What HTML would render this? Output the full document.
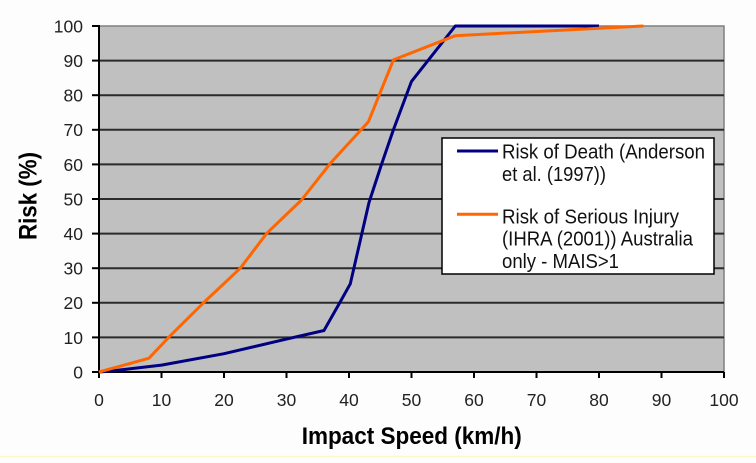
<!DOCTYPE html>
<html>
<head>
<meta charset="utf-8">
<style>
html,body{margin:0;padding:0;background:#fdfdfd;}
svg{display:block;}
text{font-family:"Liberation Sans",Arial,sans-serif;}
</style>
</head>
<body>
<svg width="756" height="463" viewBox="0 0 756 463" xmlns="http://www.w3.org/2000/svg">
<rect x="0" y="0" width="756" height="463" fill="#fdfdfd"/>
<line x1="0" y1="456.5" x2="756" y2="456.5" stroke="#fff6cc" stroke-width="1.5"/>
<!-- plot area -->
<rect x="99" y="26" width="625" height="346" fill="#c0c0c0" stroke="#808080" stroke-width="1.5"/>
<g stroke="#2b2b2b" stroke-width="2">
<line x1="99" y1="337.4" x2="724" y2="337.4"/>
<line x1="99" y1="302.8" x2="724" y2="302.8"/>
<line x1="99" y1="268.2" x2="724" y2="268.2"/>
<line x1="99" y1="233.6" x2="724" y2="233.6"/>
<line x1="99" y1="199" x2="724" y2="199"/>
<line x1="99" y1="164.4" x2="724" y2="164.4"/>
<line x1="99" y1="129.8" x2="724" y2="129.8"/>
<line x1="99" y1="95.2" x2="724" y2="95.2"/>
<line x1="99" y1="60.6" x2="724" y2="60.6"/>
</g>
<!-- axes -->
<g stroke="#000" stroke-width="2">
<line x1="99" y1="25" x2="99" y2="373"/>
<line x1="98" y1="372" x2="724" y2="372"/>
<!-- y ticks -->
<line x1="92" y1="26" x2="99" y2="26"/>
<line x1="92" y1="60.6" x2="99" y2="60.6"/>
<line x1="92" y1="95.2" x2="99" y2="95.2"/>
<line x1="92" y1="129.8" x2="99" y2="129.8"/>
<line x1="92" y1="164.4" x2="99" y2="164.4"/>
<line x1="92" y1="199" x2="99" y2="199"/>
<line x1="92" y1="233.6" x2="99" y2="233.6"/>
<line x1="92" y1="268.2" x2="99" y2="268.2"/>
<line x1="92" y1="302.8" x2="99" y2="302.8"/>
<line x1="92" y1="337.4" x2="99" y2="337.4"/>
<line x1="92" y1="372" x2="99" y2="372"/>
<!-- x ticks -->
<line x1="99" y1="372" x2="99" y2="378"/>
<line x1="161.5" y1="372" x2="161.5" y2="378"/>
<line x1="224" y1="372" x2="224" y2="378"/>
<line x1="286.5" y1="372" x2="286.5" y2="378"/>
<line x1="349" y1="372" x2="349" y2="378"/>
<line x1="411.5" y1="372" x2="411.5" y2="378"/>
<line x1="474" y1="372" x2="474" y2="378"/>
<line x1="536.5" y1="372" x2="536.5" y2="378"/>
<line x1="599" y1="372" x2="599" y2="378"/>
<line x1="661.5" y1="372" x2="661.5" y2="378"/>
<line x1="724" y1="372" x2="724" y2="378"/>
</g>
<!-- y tick labels -->
<g font-size="17.5" fill="#222" text-anchor="end">
<text x="83" y="32.4">100</text>
<text x="83" y="67">90</text>
<text x="83" y="101.6">80</text>
<text x="83" y="136.2">70</text>
<text x="83" y="170.8">60</text>
<text x="83" y="205.4">50</text>
<text x="83" y="240">40</text>
<text x="83" y="274.6">30</text>
<text x="83" y="309.2">20</text>
<text x="83" y="343.8">10</text>
<text x="83" y="378.4">0</text>
</g>
<!-- x tick labels -->
<g font-size="17.5" fill="#222" text-anchor="middle">
<text x="99" y="406">0</text>
<text x="161.5" y="406">10</text>
<text x="224" y="406">20</text>
<text x="286.5" y="406">30</text>
<text x="349" y="406">40</text>
<text x="411.5" y="406">50</text>
<text x="474" y="406">60</text>
<text x="536.5" y="406">70</text>
<text x="599" y="406">80</text>
<text x="661.5" y="406">90</text>
<text x="724" y="406">100</text>
</g>
<!-- axis titles -->
<text x="411.7" y="444" font-size="24" font-weight="bold" fill="#000" text-anchor="middle" textLength="220" lengthAdjust="spacingAndGlyphs">Impact Speed (km/h)</text>
<text transform="translate(36.5,196) rotate(-90)" x="0" y="0" font-size="25" font-weight="bold" fill="#000" text-anchor="middle" textLength="88" lengthAdjust="spacingAndGlyphs">Risk (%)</text>
<!-- series -->
<polyline fill="none" stroke="#000080" stroke-width="3" stroke-linejoin="round" points="99,372 111.5,371 161.5,365.1 224,353.7 286.5,339.1 324,330.5 340.3,301.8 350.3,283.8 369,202.5 381.5,164.4 393.4,129.8 411.5,81.4 455.3,26 599,26"/>
<polyline fill="none" stroke="#ff6600" stroke-width="3" stroke-linejoin="round" points="99,372 149,358.2 170.3,335.7 205.3,301.1 240.3,268.2 266.5,233.6 301.5,200 330.3,163.4 368.4,121.8 393.4,59.9 455.3,35.7 643.4,26"/>
<!-- legend -->
<rect x="442" y="138" width="272" height="136" fill="#fff" stroke="#000" stroke-width="1.5"/>
<line x1="457" y1="151" x2="498" y2="151" stroke="#000080" stroke-width="3"/>
<line x1="457" y1="214.3" x2="498" y2="214.3" stroke="#ff6600" stroke-width="3"/>
<g font-size="20.5" fill="#111">
<text x="502" y="158.3" textLength="203" lengthAdjust="spacingAndGlyphs">Risk of Death (Anderson</text>
<text x="502" y="181" textLength="104" lengthAdjust="spacingAndGlyphs">et al. (1997))</text>
<text x="502" y="223.3" textLength="177" lengthAdjust="spacingAndGlyphs">Risk of Serious Injury</text>
<text x="502" y="245.7" textLength="191" lengthAdjust="spacingAndGlyphs">(IHRA (2001)) Australia</text>
<text x="502" y="268" textLength="117" lengthAdjust="spacingAndGlyphs">only - MAIS&gt;1</text>
</g>
</svg>
</body>
</html>
